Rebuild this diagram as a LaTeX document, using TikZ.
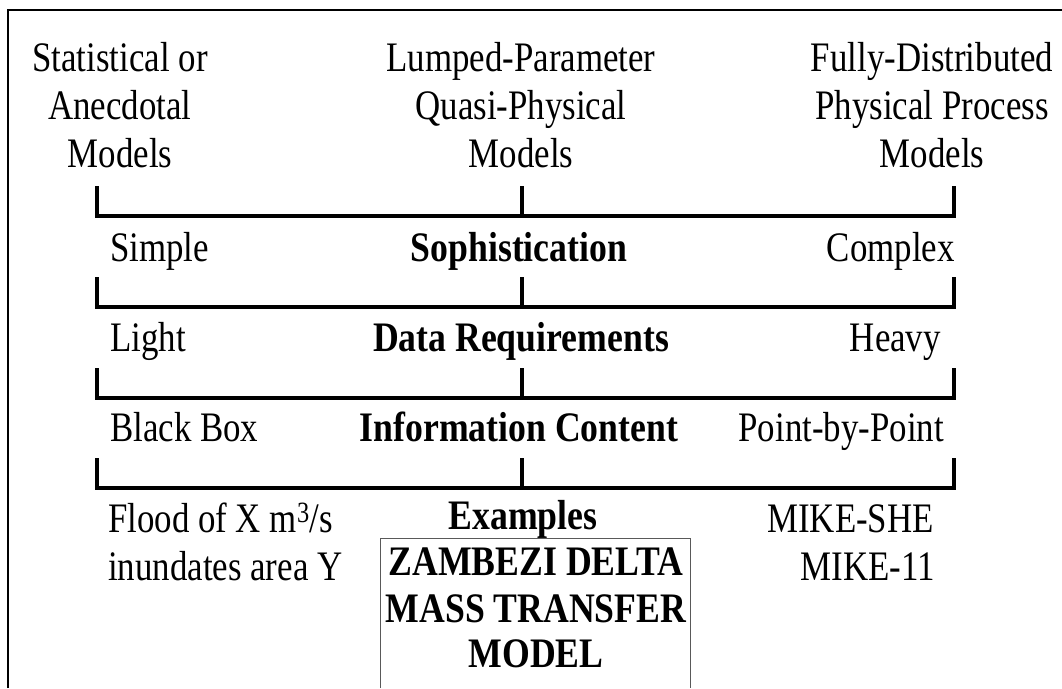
\documentclass[tikz,border=0pt]{standalone}
\usepackage{fontspec}
\setmainfont[FakeStretch=0.83,BoldFeatures={FakeStretch=0.85}]{Liberation Serif}
\begin{document}
\begin{tikzpicture}[x=1pt,y=-1pt,
	lbl/.style={inner sep=0pt,anchor=base,font=\fontsize{42}{48}\selectfont},
	ttl/.style={lbl,font=\fontsize{42}{48}\selectfont\bfseries},
	bar/.style={line width=4.5pt}]
	\useasboundingbox (0,0) rectangle (1062,688);
	
	% frame, cut off at right and bottom
	\draw[line width=2pt] (8,688) -- (8,10) -- (1062,10);
	
	% column heads
	\node[lbl] (stat1) at (120,71)  {Statistical or};
	\node[lbl] (stat2) at (120,119) {Anecdotal};
	\node[lbl] (stat3) at (120,167) {Models};
	\node[lbl] (lump1) at (521,71)  {Lumped-Parameter};
	\node[lbl] (lump2) at (521,119) {Quasi-Physical};
	\node[lbl] (lump3) at (521,167) {Models};
	\node[lbl] (full1) at (932,71)  {Fully-Distributed};
	\node[lbl] (full2) at (932,119) {Physical Process};
	\node[lbl] (full3) at (932,167) {Models};
	
	% brackets
	\foreach \t in {186,277,368,458}{
		\draw[bar] (97,\t) -- ++(0,30) -- (954,\t+30) -- (954,\t);
		\draw[bar] (522,\t) -- ++(0,30);
	}
	
	% scale rows
	\node[lbl,anchor=base west] (simple)  at (110,261) {Simple};
	\node[ttl]                  (soph)    at (519,261) {Sophistication};
	\node[lbl,anchor=base east] (complex) at (955,261) {Complex};
	
	\node[lbl,anchor=base west] (light) at (110,351) {Light};
	\node[ttl]                  (data)  at (521,351) {Data Requirements};
	\node[lbl,anchor=base east] (heavy) at (941,351) {Heavy};
	
	\node[lbl,anchor=base west] (black) at (110,441) {Black Box};
	\node[ttl]                  (info)  at (519,441) {Information Content};
	\node[lbl,anchor=base east] (point) at (944,441) {Point-by-Point};
	
	% examples
	\node[lbl,anchor=base west] (flood1) at (108,532) {Flood of X m\textsuperscript{3}/s};
	\node[lbl,anchor=base west] (flood2) at (108,580) {inundates area Y};
	\node[ttl]                  (examp)  at (523,529) {Examples};
	\node[lbl,anchor=base east] (mike1)  at (934,532) {MIKE-SHE};
	\node[lbl,anchor=base east] (mike2)  at (935,580) {MIKE-11};
	
	\draw[gray!70!black,line width=1pt] (380,688) -- (380,538) -- (690,538) -- (690,688);
	\node[ttl] (zam1) at (536,575) {ZAMBEZI DELTA};
	\node[ttl] (zam2) at (536,622) {MASS TRANSFER};
	\node[ttl] (zam3) at (536,667) {MODEL};
\end{tikzpicture}
\end{document}
